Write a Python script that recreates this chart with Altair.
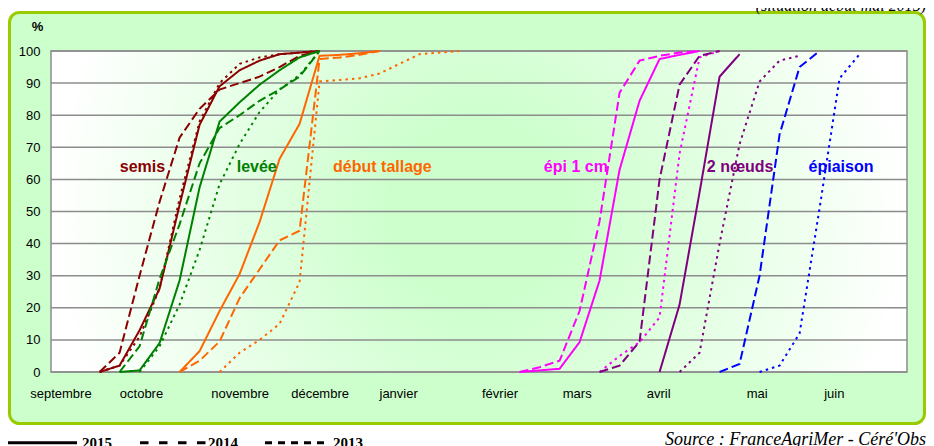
import altair as alt
import pandas as pd

# Observation days (days after 1 September), one a week
DAYS = [17, 24, 31, 38, 45, 52, 59, 66, 73, 80, 87, 94, 101, 108, 115, 122, 129,
        136, 143, 150, 157, 164, 171, 178, 185, 192, 199, 206, 213, 220, 227, 234,
        241, 248, 255, 262, 269, 276, 283]

STAGES = ["semis", "levée", "début tallage", "épi 1 cm", "2 nœuds", "épiaison"]
STAGE_COLORS = ["#8B0000", "#008000", "#FF6600", "#FF00FF", "#800080", "#0000FF"]
YEARS = ["2015", "2014", "2013"]
YEAR_DASHES = [[1, 0], [9, 4], [2.5, 4]]

# cumulated % values, starting at the given index of DAYS
SEMIS_2015 = [0, 2, 13, 26, 52, 77, 89, 94, 97, 99, 99.5, 100]
SEMIS_2014 = [0, 6, 30, 53, 73, 82, 88, 90, 92, 95, 98.5, 100]
SEMIS_2013 = [0, 2, 11, 26, 54, 78, 90, 96, 98, 99, 99.5, 100]
LEVEE_2015 = [0, 0.5, 9, 28.5, 57.5, 78, 84, 89.5, 94, 98, 100]
LEVEE_2014 = [0, 8, 29, 46, 65, 76, 80, 84.5, 88, 92, 100]
LEVEE_2013 = [0, 8, 21, 38, 58.5, 71, 81, 88, 92.5, 100]
TALLAGE_2015 = [0, 6.5, 19, 30.5, 46.7, 66.4, 77.3, 98.5, 98.8, 99.3, 100]
TALLAGE_2014 = [0, 3.5, 9.5, 23, 32, 41, 44, 97.5, 98, 98.8, 100]
TALLAGE_2013 = [0, 6, 10, 15, 28, 90.5, 91, 91.5, 93, 96, 99, 99.5, 100]
EPI_2015 = [0, 0.5, 1, 9.3, 28.5, 63, 84.5, 97.5, 98.8, 100]
EPI_2014 = [0, 1.5, 3.5, 19, 47, 87, 97, 98.5, 99.5, 100]
EPI_2013 = [0, 5, 9.3, 17, 68, 98, 100]
NOEUDS_2015 = [0, 21, 56, 92, 99]
NOEUDS_2014 = [0, 2, 9.5, 60, 89.5, 98.5, 100]
NOEUDS_2013 = [0, 6, 40, 71, 90.5, 97, 98.5]
EPIAISON_2014 = [0, 2.5, 30, 74, 95, 100]
EPIAISON_2013 = [0, 2, 12, 51, 91.5, 99]

SERIES = [
    ("semis", "2015", 0, SEMIS_2015), ("semis", "2014", 0, SEMIS_2014),
    ("semis", "2013", 0, SEMIS_2013),
    ("levée", "2015", 1, LEVEE_2015), ("levée", "2014", 1, LEVEE_2014),
    ("levée", "2013", 2, LEVEE_2013),
    ("début tallage", "2015", 4, TALLAGE_2015), ("début tallage", "2014", 4, TALLAGE_2014),
    ("début tallage", "2013", 6, TALLAGE_2013),
    ("épi 1 cm", "2015", 21, EPI_2015), ("épi 1 cm", "2014", 21, EPI_2014),
    ("épi 1 cm", "2013", 25, EPI_2013),
    ("2 nœuds", "2015", 28, NOEUDS_2015), ("2 nœuds", "2014", 25, NOEUDS_2014),
    ("2 nœuds", "2013", 29, NOEUDS_2013),
    ("épiaison", "2014", 31, EPIAISON_2014), ("épiaison", "2013", 33, EPIAISON_2013),
]

MONTHS = ["septembre", "octobre", "novembre", "décembre", "janvier", "février",
          "mars", "avril", "mai", "juin"]
MONTH_DAYS = [3.3, 31.5, 66, 94, 121.5, 157, 184, 212.5, 247, 274]
Y_TICKS = [0, 10, 20, 30, 40, 50, 60, 70, 80, 90, 100]

LABEL_DAYS = [32, 72, 116, 183.7, 241.2, 276.5]
LABEL_LEVEL = [64, 64, 64, 64, 64, 64]

X_DOMAIN = [0, 299.6]

rows = []
for stage, year, start, vals in SERIES:
    for i, v in enumerate(vals):
        rows.append({"stage": stage, "year": year, "series": stage + " " + year,
                     "day": DAYS[start + i], "value": v})
df = pd.DataFrame(rows)

labels_df = pd.DataFrame({"stage": STAGES, "day": LABEL_DAYS, "value": LABEL_LEVEL})
grid_df = pd.DataFrame({"value": Y_TICKS})
one = pd.DataFrame({"a": [0]})

W, H = 856, 321
FONT = "Liberation Sans"
SERIF = "Liberation Serif"

label_expr = ("[" + ",".join("'" + m + "'" for m in MONTHS) + "][indexof(["
              + ",".join(str(d) for d in MONTH_DAYS) + "], datum.value)]")

xscale = alt.Scale(domain=X_DOMAIN, nice=False, zero=False)
yscale = alt.Scale(domain=[0, 100], nice=False)
color = alt.Color("stage:N", scale=alt.Scale(domain=STAGES, range=STAGE_COLORS), legend=None)


def x_axis():
    return alt.Axis(values=MONTH_DAYS, labelExpr=label_expr, title="", domain=False,
                    ticks=False, tickSize=0, grid=False, labelPadding=15,
                    labelFontSize=13, labelFont=FONT, labelColor="#000000",
                    labelOverlap=False, labelFlush=False, zindex=2)


def y_axis():
    return alt.Axis(values=Y_TICKS, title="", domain=False, ticks=False, tickSize=0,
                    grid=False, labelPadding=11, labelFontSize=13, labelFont=FONT,
                    labelColor="#000000", zindex=2)


box = alt.Chart(one).mark_rect(
    cornerRadius=10, fill="#ccffcc", stroke="#99cc00", strokeWidth=3
).encode(x=alt.value(-41.5), x2=alt.value(873.5), y=alt.value(-38.5), y2=alt.value(372.5))

plot_bg = alt.Chart(one).mark_rect(
    fill=alt.RadialGradient(
        gradient="radial",
        stops=[alt.GradientStop(color="#ccffcc", offset=0),
               alt.GradientStop(color="#ccffcc", offset=0.2),
               alt.GradientStop(color="#ffffff", offset=1)],
        x1=0.5, y1=0.5, r1=0, x2=0.5, y2=0.5, r2=0.5),
).encode(x=alt.value(0), x2=alt.value(W), y=alt.value(0), y2=alt.value(H))

grid = alt.Chart(grid_df).mark_rule(color="#8c8c8c", strokeWidth=1.5).encode(
    y=alt.Y("value:Q", scale=yscale, axis=y_axis()))

border = alt.Chart(one).mark_rect(
    fillOpacity=0, stroke="#8c8c8c", strokeWidth=1.5
).encode(x=alt.value(0), x2=alt.value(W), y=alt.value(0), y2=alt.value(H))

lines = alt.Chart(df).mark_line(strokeWidth=2, strokeCap="butt").encode(
    x=alt.X("day:Q", scale=xscale, axis=x_axis()),
    y=alt.Y("value:Q", scale=yscale, axis=y_axis()),
    color=color,
    strokeDash=alt.StrokeDash("year:N", scale=alt.Scale(domain=YEARS, range=YEAR_DASHES),
                              legend=None),
    detail="series:N",
    order="day:Q",
)

stage_text = alt.Chart(labels_df).mark_text(
    font=FONT, fontSize=16, fontWeight="bold", align="center", baseline="middle"
).encode(
    x=alt.X("day:Q", scale=xscale, axis=x_axis()),
    y=alt.Y("value:Q", scale=yscale, axis=y_axis()),
    text="stage:N", color=color)

pct = alt.Chart(one).mark_text(
    text="%", font=FONT, fontSize=13, fontWeight="bold", align="center", baseline="middle"
).encode(x=alt.value(-13.5), y=alt.value(-24))

top_note = alt.Chart(one).mark_text(
    text="(situation début mai 2015)", font=SERIF, fontSize=16, fontStyle="italic",
    align="right", baseline="alphabetic", color="#000000"
).encode(x=alt.value(875), y=alt.value(-40.5))

source = alt.Chart(one).mark_text(
    text="Source : FranceAgriMer - Céré'Obs", font=SERIF, fontSize=18, fontStyle="italic",
    align="right", baseline="alphabetic", color="#000000"
).encode(x=alt.value(875), y=alt.value(394))

legend_layers = []
LEG = [("2015", -43, 26, [1, 0], 31), ("2014", 89, 156, [8.5, 10.5], 157),
       ("2013", 214, 279, [7, 6], 282)]
for yr, x0, x1, dash, tx in LEG:
    legend_layers.append(alt.Chart(one).mark_rule(
        color="#000000", strokeWidth=3, strokeDash=dash, strokeCap="butt"
    ).encode(x=alt.value(x0), x2=alt.value(x1), y=alt.value(391.7)))
    legend_layers.append(alt.Chart(one).mark_text(
        text=yr, font=SERIF, fontSize=15, fontWeight="bold", align="left",
        baseline="alphabetic", color="#000000"
    ).encode(x=alt.value(tx), y=alt.value(397)))

chart = alt.layer(
    box, plot_bg, grid, border, lines, stage_text, pct, top_note, source, *legend_layers
).properties(
    width=W, height=H,
    padding={"left": 43, "top": 43, "right": 19, "bottom": 74},
    autosize=alt.AutoSizeParams(type="none"),
    background="#ffffff",
).configure_view(strokeWidth=0)

chart.save("out.html", embed_options={"renderer": "svg", "actions": False})
